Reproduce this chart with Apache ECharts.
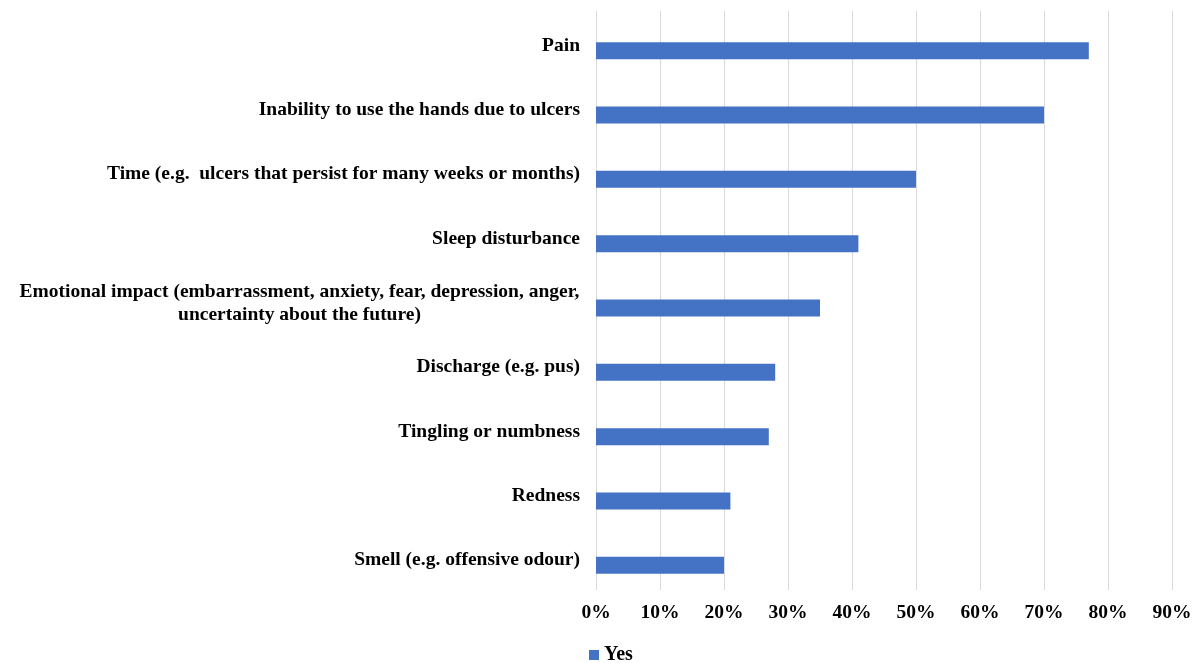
<!DOCTYPE html>
<html>
<head>
<meta charset="utf-8">
<script src="https://cdn.jsdelivr.net/npm/echarts@6/dist/echarts.min.js"></script>
<style>html,body{margin:0;padding:0;background:#fff}#c{width:1200px;height:663px}</style>
</head>
<body>
<div id="c"></div>
<script>
const categories = [
  "Pain",
  "Inability to use the hands due to ulcers",
  "Time (e.g.  ulcers that persist for many weeks or months)",
  "Sleep disturbance",
  "Emotional impact (embarrassment, anxiety, fear, depression, anger,\nuncertainty about the future)",
  "Discharge (e.g. pus)",
  "Tingling or numbness",
  "Redness",
  "Smell (e.g. offensive odour)"
];
const yesValues = [77, 70, 50, 41, 35, 28, 27, 21, 20];
const xTicks = [0, 10, 20, 30, 40, 50, 60, 70, 80, 90];

const catsRev = categories.slice().reverse();
const valsRev = yesValues.slice().reverse();
const FONT = '"Liberation Serif", "Times New Roman", serif';

const chart = echarts.init(document.getElementById('c'));
chart.setOption({
  animation: false,
  backgroundColor: '#ffffff',
  grid: [
    { left: 596, right: 28, top: 11, bottom: 73, containLabel: false },
    { left: 596, right: 28, top: 18.5, bottom: 65.5, containLabel: false }
  ],
  legend: {
    data: ['Yes'],
    left: 584, top: 640,
    itemWidth: 10, itemHeight: 10, itemGap: 3,
    icon: 'rect',
    textStyle: { fontFamily: FONT, fontWeight: 'bold', fontSize: 20, color: '#000' }
  },
  xAxis: [
    {
      gridIndex: 0, type: 'value', min: xTicks[0], max: xTicks[xTicks.length - 1], interval: 10,
      axisLine: { show: false }, axisTick: { show: false },
      splitLine: { show: true, lineStyle: { color: '#d9d9d9', width: 1 } },
      axisLabel: { formatter: '{value}%', margin: 13, fontFamily: FONT, fontWeight: 'bold', fontSize: 19.5, color: '#000' }
    },
    {
      gridIndex: 1, type: 'value', min: xTicks[0], max: xTicks[xTicks.length - 1], interval: 10,
      show: false
    }
  ],
  yAxis: [
    {
      gridIndex: 0, type: 'category', data: catsRev,
      axisLine: { show: false }, axisTick: { show: false },
      axisLabel: {
        margin: 16,
        padding: [5, 0, 0, 0],
        formatter: function (v) {
          if (v.indexOf('\n') < 0) return v;
          return v.split('\n').map(function (l) { return '{c|' + l + '}'; }).join('\n');
        },
        rich: {
          c: { fontFamily: FONT, fontWeight: 'bold', fontSize: 19.5, color: '#000', lineHeight: 23, align: 'center', width: 561 }
        },
        fontFamily: FONT, fontWeight: 'bold', fontSize: 19.5, color: '#000'
      }
    },
    {
      gridIndex: 1, type: 'category', data: catsRev, show: false
    }
  ],
  series: [{
    name: 'Yes', type: 'bar', xAxisIndex: 1, yAxisIndex: 1,
    data: valsRev, barWidth: 17,
    itemStyle: { color: '#4472C4' }
  }]
});
</script>
</body>
</html>
